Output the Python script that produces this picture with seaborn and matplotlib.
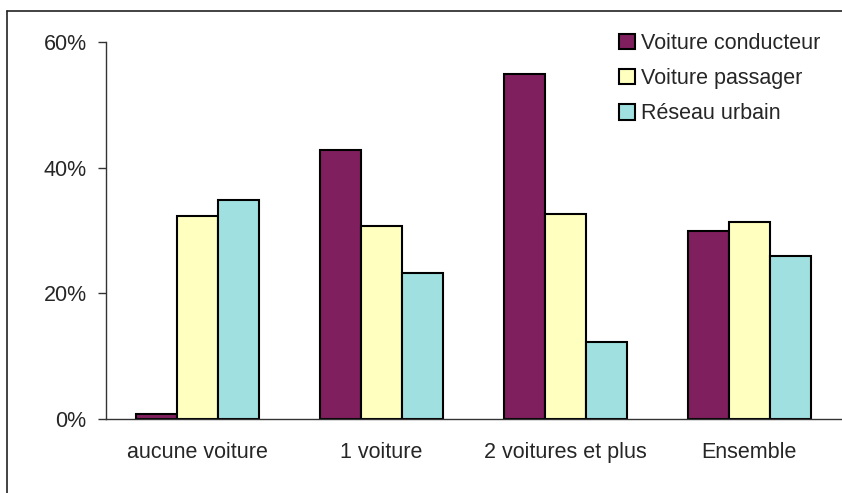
import matplotlib
matplotlib.use("Agg")
import matplotlib.pyplot as plt
import matplotlib.lines as mlines
import seaborn as sns
import pandas as pd
import numpy as np

categories = ["aucune voiture", "1 voiture", "2 voitures et plus", "Ensemble"]
series = ["Voiture conducteur", "Voiture passager", "Réseau urbain"]
conducteur = [0.7, 42.9, 55.0, 29.9]
passager = [32.3, 30.7, 32.7, 31.4]
reseau = [34.8, 23.2, 12.3, 26.0]
colors = ["#801F5E", "#FFFFC0", "#A0E0E0"]
yticks = [0, 20, 40, 60]
ytick_labels = ["0%", "20%", "40%", "60%"]

rows = []
for name, vals in zip(series, [conducteur, passager, reseau]):
    for c, v in zip(categories, vals):
        rows.append({"cat": c, "serie": name, "val": v})
df = pd.DataFrame(rows)

sns.set_style("white")
plt.rcParams["font.family"] = ["Liberation Sans", "DejaVu Sans"]

FS = 15.5
W, H = 842, 493
fig = plt.figure(figsize=(W / 100, H / 100), dpi=100)
ax = fig.add_axes([106 / W, 1 - 418.7 / H, (841 - 106) / W, (418.7 - 42.2) / H])

sns.barplot(data=df, x="cat", y="val", hue="serie", order=categories,
            hue_order=series, palette=colors, width=0.67, gap=0,
            edgecolor="black", linewidth=1.5, saturation=1, ax=ax, legend=True)

ax.set_xlim(-0.5, len(categories) - 0.5)
ax.set_ylim(0, 60)
ax.set_yticks(yticks)
ax.set_yticklabels(ytick_labels, fontsize=FS)
ax.set_xticks(range(len(categories)))
ax.set_xticklabels(categories, fontsize=FS)
ax.tick_params(axis="x", which="major", length=0, pad=17)
ax.set_xticks(np.arange(-0.5, len(categories), 1.0), minor=True)
ax.tick_params(axis="x", which="minor", length=6, width=1, color="#333333", direction="out")
ax.tick_params(axis="y", length=6, width=1, color="#333333", direction="out", pad=8, left=True)
ax.set_xlabel("")
ax.set_ylabel("")
for s in ["top", "right"]:
    ax.spines[s].set_visible(False)
for s in ["left", "bottom"]:
    ax.spines[s].set_color("#333333")
    ax.spines[s].set_linewidth(1)

leg = ax.legend(loc="upper left", bbox_to_anchor=(619 / W, 1 - 33 / H),
                bbox_transform=fig.transFigure, frameon=False, fontsize=FS,
                handlelength=0.72, handleheight=0.72, handletextpad=0.3,
                labelspacing=0.66, borderpad=0, borderaxespad=0)
for h in leg.legend_handles:
    h.set_edgecolor("black")
    h.set_linewidth(1.5)

# outer frame (left and top edges visible)
fig.add_artist(mlines.Line2D([7 / W, 7 / W], [0, 1 - 11 / H], transform=fig.transFigure,
                             color="#222222", linewidth=1.2))
fig.add_artist(mlines.Line2D([7 / W, 1], [1 - 11 / H, 1 - 11 / H], transform=fig.transFigure,
                             color="#222222", linewidth=1.2))

fig.savefig("out.png", dpi=100)
